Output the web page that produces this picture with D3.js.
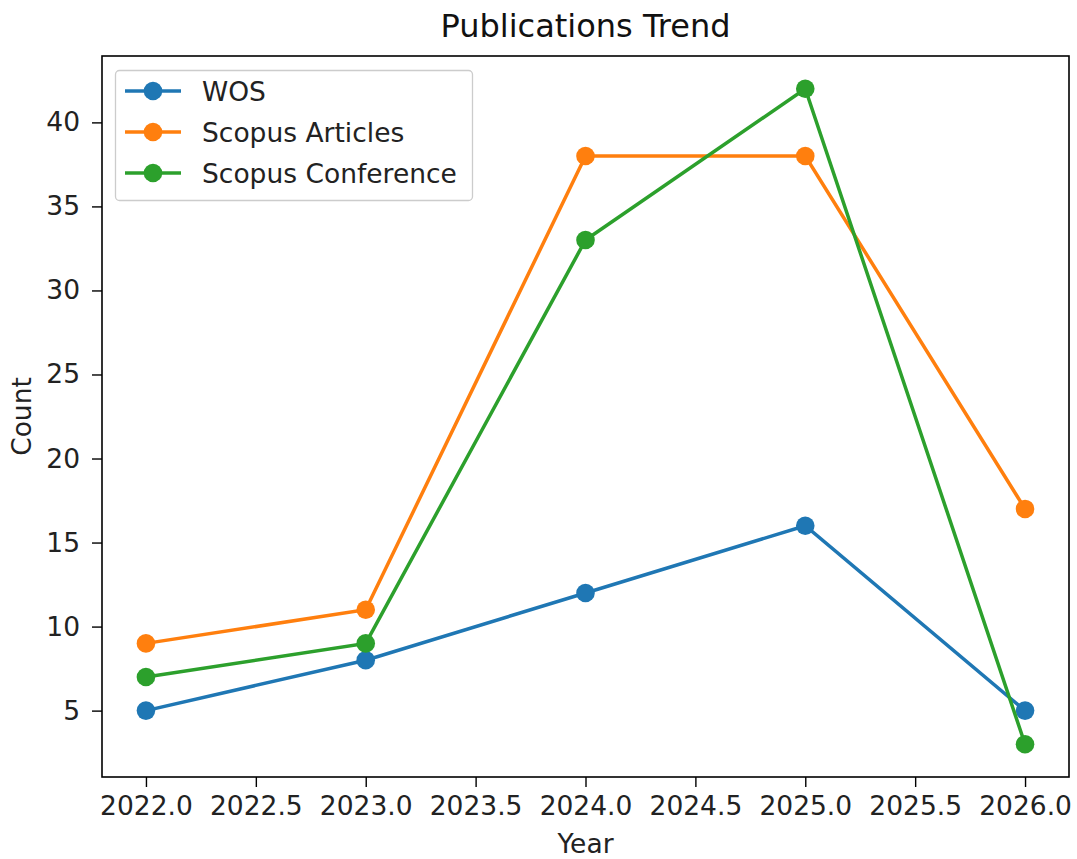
<!DOCTYPE html>
<html>
<head>
<meta charset="utf-8">
<script src="https://cdn.jsdelivr.net/npm/d3@7"></script>
<style>
  body { margin: 0; background: #fff; }
  svg { display: block; font-family: "DejaVu Sans", sans-serif; }
</style>
</head>
<body>
<svg id="chart"></svg>
<script>
// data
var years = [2022, 2023, 2024, 2025, 2026];
var wos = [5, 8, 12, 16, 5];
var scopusArticles = [9, 11, 38, 38, 17];
var scopusConference = [7, 9, 33, 42, 3];
var seriesNames = ['WOS', 'Scopus Articles', 'Scopus Conference'];
var xTicks = [2022.0, 2022.5, 2023.0, 2023.5, 2024.0, 2024.5, 2025.0, 2025.5, 2026.0];
var yTicks = [5, 10, 15, 20, 25, 30, 35, 40];

var width = 1077, height = 859;
var margin = {left: 102, right: 8, top: 56, bottom: 82};
var colors = ['#1f77b4', '#ff7f0e', '#2ca02c'];
var fs = 26.5;

var svg = d3.select('#chart')
  .attr('width', width)
  .attr('height', height);

var x = d3.scaleLinear()
  .domain([2021.8, 2026.2])
  .range([margin.left, width - margin.right]);

var y = d3.scaleLinear()
  .domain([1.05, 43.95])
  .range([height - margin.bottom, margin.top]);

// axes
svg.append('g')
  .attr('transform', 'translate(0,' + (height - margin.bottom) + ')')
  .call(d3.axisBottom(x).tickValues(xTicks).tickFormat(d3.format('.1f')).tickSizeInner(10).tickSizeOuter(0).tickPadding(9))
  .call(g => g.select('.domain').remove())
  .call(g => g.selectAll('line').attr('stroke', '#000').attr('stroke-width', 1.4))
  .call(g => g.selectAll('text').attr('font-size', fs).attr('fill', '#222').attr('font-family', 'DejaVu Sans'));

svg.append('g')
  .attr('transform', 'translate(' + margin.left + ',0)')
  .call(d3.axisLeft(y).tickValues(yTicks).tickSizeInner(10).tickSizeOuter(0).tickPadding(12))
  .call(g => g.select('.domain').remove())
  .call(g => g.selectAll('line').attr('stroke', '#000').attr('stroke-width', 1.4))
  .call(g => g.selectAll('text').attr('font-size', fs).attr('fill', '#222').attr('font-family', 'DejaVu Sans'));

// frame
svg.append('rect')
  .attr('x', margin.left)
  .attr('y', margin.top)
  .attr('width', width - margin.left - margin.right)
  .attr('height', height - margin.top - margin.bottom)
  .attr('fill', 'none')
  .attr('stroke', '#000')
  .attr('stroke-width', 1.6);

// lines + markers
var allSeries = [wos, scopusArticles, scopusConference];
var line = d3.line()
  .x((d, i) => x(years[i]))
  .y(d => y(d));

allSeries.forEach(function(vals, k) {
  svg.append('path')
    .datum(vals)
    .attr('d', line)
    .attr('fill', 'none')
    .attr('stroke', colors[k])
    .attr('stroke-width', 3.5);
  svg.selectAll('.dot' + k)
    .data(vals).enter()
    .append('circle')
    .attr('cx', (d, i) => x(years[i]))
    .attr('cy', d => y(d))
    .attr('r', 9.3)
    .attr('fill', colors[k]);
});

// titles
svg.append('text')
  .attr('x', (margin.left + width - margin.right) / 2)
  .attr('y', 37)
  .attr('text-anchor', 'middle')
  .attr('font-size', 32)
  .attr('fill', '#111')
  .text('Publications Trend');

svg.append('text')
  .attr('x', (margin.left + width - margin.right) / 2)
  .attr('y', 853)
  .attr('text-anchor', 'middle')
  .attr('font-size', fs)
  .attr('fill', '#222')
  .text('Year');

svg.append('text')
  .attr('transform', 'translate(31,' + ((margin.top + height - margin.bottom) / 2) + ') rotate(-90)')
  .attr('text-anchor', 'middle')
  .attr('font-size', fs)
  .attr('fill', '#222')
  .text('Count');

// legend
var legend = svg.append('g');
legend.append('rect')
  .attr('x', 115.5)
  .attr('y', 70.5)
  .attr('width', 357)
  .attr('height', 130)
  .attr('rx', 4)
  .attr('fill', '#fff')
  .attr('fill-opacity', 0.8)
  .attr('stroke', '#ccc')
  .attr('stroke-width', 1.3);

seriesNames.forEach(function(name, k) {
  var ly = 91 + k * 41;
  legend.append('line')
    .attr('x1', 125).attr('x2', 181)
    .attr('y1', ly).attr('y2', ly)
    .attr('stroke', colors[k])
    .attr('stroke-width', 3.5);
  legend.append('circle')
    .attr('cx', 153).attr('cy', ly)
    .attr('r', 9.3)
    .attr('fill', colors[k]);
  legend.append('text')
    .attr('x', 202)
    .attr('y', ly + 9.5)
    .attr('font-size', fs)
    .attr('fill', '#222')
    .text(name);
});
</script>
</body>
</html>
